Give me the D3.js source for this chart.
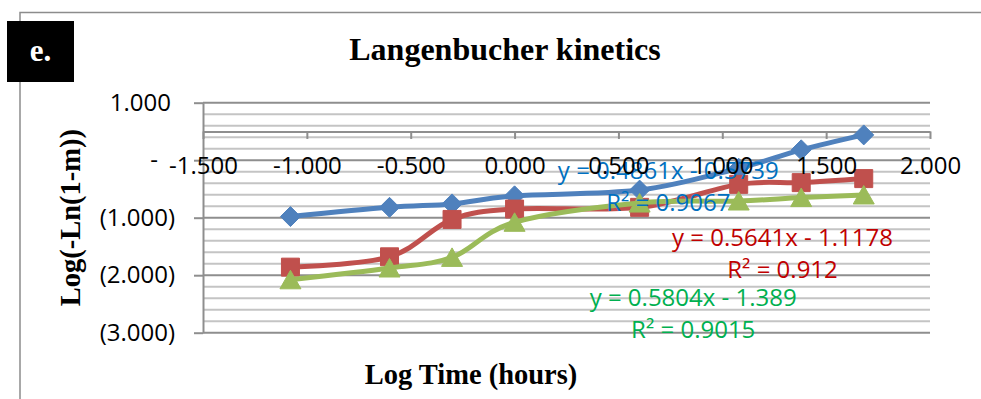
<!DOCTYPE html>
<html>
<head>
<meta charset="utf-8">
<script src="https://cdn.jsdelivr.net/npm/d3@7"></script>
<style>
  body { margin: 0; background: #fff; }
  svg { display: block; }
</style>
</head>
<body>
<div id="chart"></div>
<script>
// log time (hours) for each sampling point
let logTime = [-1.079, -0.602, -0.301, 0, 0.602, 1.079, 1.38, 1.681]
let seriesBlue = [-0.98, -0.82, -0.76, -0.62, -0.52, -0.14, 0.18, 0.44]
let seriesRed = [-1.86, -1.68, -1.03, -0.85, -0.82, -0.42, -0.39, -0.32]
let seriesGreen = [-2.08, -1.875, -1.69, -1.08, -0.745, -0.71, -0.65, -0.605]

let xTicks = [-1.5, -1, -0.5, 0, 0.5, 1, 1.5, 2]
let yTicks = [1, 0, -1, -2, -3]

let equations = ['y = 0.4861x - 0.5739', 'y = 0.5641x - 1.1178', 'y = 0.5804x - 1.389']
let rSquared = ['R² = 0.9067', 'R² = 0.912', 'R² = 0.9015']
// where Excel dropped each trendline label (in data units)
let labelX = [0.74, 1.29, 0.86]
let labelY = [-0.17, -1.35, -2.39]

let colors = ['#4f81bd', '#c0504d', '#9bbb59']
let textColors = ['#0070c0', '#c00000', '#00b050']
let shapes = ['diamond', 'square', 'triangle']

let width = 981
let height = 399
let sans = '"Open Sans", sans-serif'
let serif = '"Liberation Serif", "Times New Roman", serif'

let svg = d3
  .select('#chart')
  .append('svg')
  .attr('width', width)
  .attr('height', height)

let x = d3.scaleLinear().domain([-1.5, 2]).range([203, 930])
let y = d3.scaleLinear().domain([-3, 1]).range([332.7, 102.7])

// outer frame (only top and left edges show)
svg.append('path')
  .attr('d', `M20,${height} V12.5 H${width}`)
  .attr('fill', 'none')
  .attr('stroke', '#8c8c8c')
  .attr('stroke-width', 1.5)

// panel tag
svg.append('rect')
  .attr('x', 7).attr('y', 21).attr('width', 67).attr('height', 61)
  .attr('fill', '#000')
svg.append('text')
  .attr('x', 40.5).attr('y', 61)
  .attr('text-anchor', 'middle')
  .attr('fill', '#fff')
  .style('font', `bold 31px ${serif}`)
  .text('e.')

svg.append('text')
  .attr('x', 505).attr('y', 60)
  .attr('text-anchor', 'middle')
  .style('font', `bold 32px ${serif}`)
  .text('Langenbucher kinetics')

// gridlines: minor every 0.2, major every 1
let minor = d3.range(-3, 1.0001, 0.2).filter(v => Math.abs(v - Math.round(v)) > 0.01)
svg.append('g')
  .selectAll('line')
  .data(minor)
  .enter()
  .append('line')
  .attr('x1', x(-1.5)).attr('x2', x(2))
  .attr('y1', d => y(d)).attr('y2', d => y(d))
  .attr('stroke', '#c4c4c4')
  .attr('stroke-width', 2)

svg.append('g')
  .selectAll('line')
  .data(yTicks)
  .enter()
  .append('line')
  .attr('x1', x(-1.5)).attr('x2', x(2))
  .attr('y1', d => y(d)).attr('y2', d => y(d))
  .attr('stroke', '#8e8e8e')
  .attr('stroke-width', 2)

// y axis with accounting style labels
let yFormat = d => (d < 0 ? `(${Math.abs(d).toFixed(3)})` : d === 0 ? '-' : d.toFixed(3))
let yAxis = svg.append('g')
  .attr('transform', `translate(${x(-1.5)},0)`)
  .call(d3.axisLeft(y).tickValues(yTicks).tickSize(9).tickSizeOuter(0).tickPadding(19).tickFormat(yFormat))
yAxis.selectAll('path, line').attr('stroke', '#8e8e8e').attr('stroke-width', 2)
yAxis.selectAll('text')
  .style('font', `24px ${sans}`)
  .attr('fill', '#000')
  .attr('dx', d => (d > 0 ? -4 : d === 0 ? -17 : 0))

// x axis line sits at y = 0.5, labels drawn later on top
let xAxisGen = d3.axisBottom(x)
  .tickValues(xTicks)
  .tickSize(7.5)
  .tickSizeOuter(0)
  .tickPadding(18)
  .tickFormat(d => d.toFixed(3))

let xAxis = svg.append('g')
  .attr('transform', `translate(0,${y(0.5)})`)
  .call(xAxisGen)
xAxis.selectAll('path, line').attr('stroke', '#8e8e8e').attr('stroke-width', 2)
xAxis.selectAll('text').remove()

// series
let allSeries = [seriesBlue, seriesRed, seriesGreen]

let line = d3
  .line()
  .x(d => x(d[0]))
  .y(d => y(d[1]))
  .curve(d3.curveCatmullRom.alpha(0))

function marker(shape, cx, cy) {
  if (shape === 'diamond') {
    return `M${cx},${cy - 10} L${cx + 10},${cy} L${cx},${cy + 10} L${cx - 10},${cy} Z`
  }
  if (shape === 'square') {
    return `M${cx - 9},${cy - 9} h18 v18 h-18 Z`
  }
  return `M${cx},${cy - 9.5} L${cx + 10.5},${cy + 9} L${cx - 10.5},${cy + 9} Z`
}

allSeries.forEach((values, i) => {
  let points = values.map((v, j) => [logTime[j], v])
  let g = svg.append('g')

  g.append('path')
    .attr('d', line(points))
    .attr('fill', 'none')
    .attr('stroke', colors[i])
    .attr('stroke-width', 5)

  g.selectAll('.marker')
    .data(points)
    .enter()
    .append('path')
    .attr('class', 'marker')
    .attr('d', d => marker(shapes[i], x(d[0]), y(d[1])))
    .attr('fill', colors[i])
    .attr('stroke', colors[i])
    .attr('stroke-width', 1)
})

// trendline labels
equations.forEach((eq, i) => {
  let g = svg.append('g')
    .attr('transform', `translate(${x(labelX[i])},${y(labelY[i])})`)
    .attr('fill', textColors[i])
    .attr('text-anchor', 'middle')
    .style('font', `24px ${sans}`)

  g.append('text').attr('dy', '0.36em').text(eq)
  g.append('text').attr('y', 32).attr('dy', '0.36em').text(rSquared[i])
})

// x tick labels on top of everything
let xLabels = svg.append('g')
  .attr('transform', `translate(0,${y(0.5)})`)
  .call(xAxisGen)
xLabels.select('.domain').remove()
xLabels.selectAll('line').remove()
xLabels.selectAll('text')
  .style('font', `24px ${sans}`)
  .attr('fill', '#000')

svg.append('text')
  .attr('x', 471).attr('y', 384)
  .attr('text-anchor', 'middle')
  .style('font', `bold 28.5px ${serif}`)
  .text('Log Time (hours)')

svg.append('text')
  .attr('transform', `translate(80,${(y(1) + y(-3)) / 2}) rotate(-90)`)
  .attr('text-anchor', 'middle')
  .style('font', `bold 28.5px ${serif}`)
  .text('Log(-Ln(1-m))')
</script>
</body>
</html>
